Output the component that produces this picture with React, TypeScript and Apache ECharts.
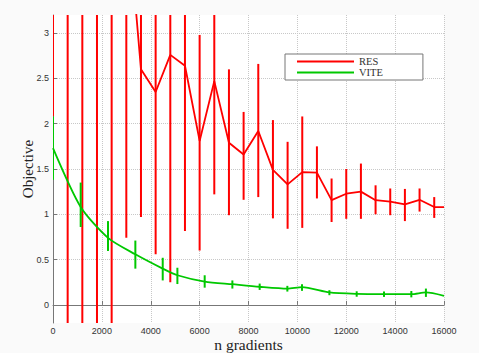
import React, { useEffect, useRef } from "react";
import * as echarts from "echarts";

const xTicks = [0, 2000, 4000, 6000, 8000, 10000, 12000, 14000, 16000];
const yTicks = [0, 0.5, 1, 1.5, 2, 2.5, 3];

const resX = [0, 600, 1200, 1800, 2400, 3000, 3600, 4200, 4800, 5400, 6000, 6600, 7200, 7800, 8400, 9000, 9600, 10200, 10800, 11400, 12000, 12600, 13200, 13800, 14400, 15000, 15600, 16000];
const resMean = [15, 12, 10, 8, 6, 4.5, 2.6, 2.35, 2.76, 2.64, 1.81, 2.47, 1.79, 1.66, 1.92, 1.49, 1.33, 1.465, 1.46, 1.156, 1.227, 1.25, 1.156, 1.14, 1.11, 1.16, 1.08, 1.08];
const resLo = [2.08, -1.5, -1.2, -1.0, -0.8, 0.74, 0.97, 0.56, 0.25, 0.815, 0.6, 1.22, 0.99, 1.16, 1.19, 0.955, 0.84, 0.85, 1.175, 0.915, 0.95, 0.95, 1.0, 0.99, 0.925, 1.03, 0.96];
const resHi = [28, 25, 21, 17, 13, 8.3, 4.23, 4.14, 5.27, 4.47, 2.98, 3.72, 2.6, 2.13, 2.66, 2.04, 1.8, 2.08, 1.75, 1.395, 1.5, 1.56, 1.32, 1.285, 1.28, 1.285, 1.19];

const viteX = [0, 1133, 2250, 3370, 4490, 5090, 6207, 7340, 8457, 9590, 10190, 11310, 12427, 13545, 14663, 15260, 16000];
const viteMean = [1.73, 1.08, 0.74, 0.558, 0.4, 0.327, 0.257, 0.228, 0.2, 0.18, 0.195, 0.137, 0.121, 0.118, 0.118, 0.137, 0.1];
const viteLo = [1.38, 0.86, 0.595, 0.4, 0.27, 0.23, 0.19, 0.18, 0.165, 0.147, 0.155, 0.107, 0.09, 0.088, 0.083, 0.088];
const viteHi = [2.08, 1.35, 0.925, 0.71, 0.52, 0.41, 0.327, 0.27, 0.235, 0.21, 0.228, 0.162, 0.15, 0.148, 0.153, 0.18];

const RED = "#ff0000";
const GREEN = "#00c800";

function errRender(color: string) {
  return (params: any, api: any) => {
    const x = api.value(0);
    const p1 = api.coord([x, api.value(1)]);
    const p2 = api.coord([x, api.value(2)]);
    return {
      type: "line",
      shape: { x1: p1[0], y1: p1[1], x2: p2[0], y2: p2[1] },
      style: { stroke: color, lineWidth: 2 },
    };
  };
}

export default function App() {
  const ref = useRef<HTMLDivElement>(null);
  useEffect(() => {
    const chart = echarts.init(ref.current!, null, { renderer: "svg" });
    const sans = "Liberation Sans";
    const serif = "Liberation Serif";
    chart.setOption({
      animation: false,
      backgroundColor: "#fafafa",
      grid: {
        left: 53, right: 35, top: 15, bottom: 30,
        show: true, backgroundColor: "#ffffff", borderWidth: 0,
        outerBoundsMode: "none", containLabel: false,
      },
      legend: {
        data: ["RES", "VITE"],
        orient: "vertical",
        left: 285,
        top: 54,
        icon: "rect",
        itemWidth: 57,
        itemHeight: 2,
        itemGap: 0,
        padding: [2, 40, 2, 12],
        backgroundColor: "#ffffff",
        borderColor: "#777777",
        borderWidth: 1,
        textStyle: { fontFamily: serif, fontSize: 10.5, color: "#333", lineHeight: 10 },
      },
      xAxis: {
        type: "value",
        min: 0,
        max: 16000,
        interval: 2000,
        name: "n gradients",
        nameLocation: "middle",
        nameGap: 15,
        nameMoveOverlap: false,
        nameTextStyle: { fontFamily: serif, fontSize: 15.5, lineHeight: 12, color: "#222" },
        axisLine: { show: true, lineStyle: { color: "#777", width: 1 } },
        axisTick: { show: true, inside: true, length: 4, lineStyle: { color: "#777" }, customValues: xTicks },
        axisLabel: { fontFamily: sans, fontSize: 9, color: "#333", margin: 3, customValues: xTicks, formatter: (v: number) => String(v) },
        splitLine: { show: true, lineStyle: { type: "dotted", color: "#c8c8c8", width: 1 } },
      },
      yAxis: {
        type: "value",
        min: -0.2,
        max: 3.2,
        name: "Objective",
        nameLocation: "middle",
        nameGap: 18,
        nameMoveOverlap: false,
        nameTextStyle: { fontFamily: serif, fontSize: 15, color: "#222" },
        axisLine: { show: true, lineStyle: { color: "#777", width: 1 } },
        axisTick: { show: true, inside: true, length: 4, lineStyle: { color: "#777" }, customValues: yTicks },
        axisLabel: { fontFamily: sans, fontSize: 9, color: "#333", margin: 4, customValues: yTicks, formatter: (v: number) => String(v) },
        splitLine: { show: true, lineStyle: { type: "dotted", color: "#c8c8c8", width: 1 } },
      },
      series: [
        {
          name: "RES",
          type: "line",
          data: resX.map((x, i) => [x, resMean[i]]),
          showSymbol: false,
          lineStyle: { color: RED, width: 1.8 },
          itemStyle: { color: RED },
          clip: true,
          z: 2,
        },
        {
          name: "RES err",
          type: "custom",
          data: resLo.map((lo, i) => [resX[i], lo, resHi[i]]),
          encode: { x: 0, y: [1, 2] },
          renderItem: errRender(RED),
          clip: true,
          z: 3,
        },
        {
          name: "VITE",
          type: "line",
          data: viteX.map((x, i) => [x, viteMean[i]]),
          showSymbol: false,
          smooth: 0.25,
          lineStyle: { color: GREEN, width: 1.8 },
          itemStyle: { color: GREEN },
          clip: true,
          z: 4,
        },
        {
          name: "VITE err",
          type: "custom",
          data: viteLo.map((lo, i) => [viteX[i], lo, viteHi[i]]),
          encode: { x: 0, y: [1, 2] },
          renderItem: errRender(GREEN),
          clip: true,
          z: 5,
        },
      ],
    });
    return () => chart.dispose();
  }, []);
  return <div ref={ref} style={{ position: "fixed", left: 0, top: 0, width: 479, height: 353 }} />;
}
